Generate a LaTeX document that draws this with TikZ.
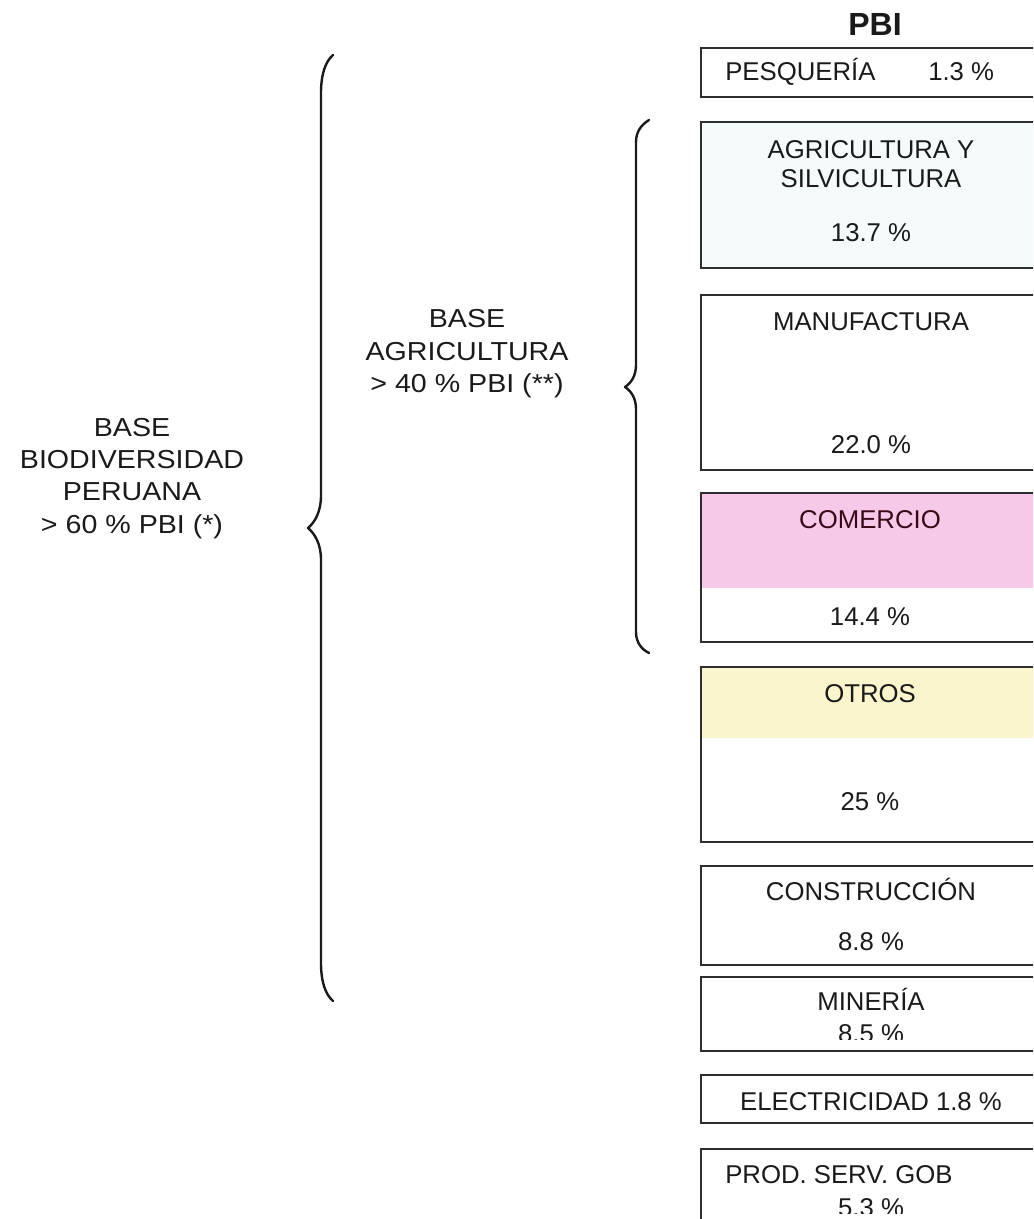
\documentclass[tikz,border=0pt]{standalone}
\usepackage{fontspec}
\setmainfont{Liberation Sans}
\newfontfamily\widesans{Liberation Sans}[FakeStretch=1.1]
\definecolor{ink}{HTML}{1A1A1A}
\definecolor{frame}{HTML}{2E2E2E}
\definecolor{agrifill}{HTML}{F5FBFB}
\definecolor{pinkfill}{HTML}{F5C9E7}
\definecolor{yellowfill}{HTML}{FBF5CE}
\definecolor{maroon}{HTML}{3A0A1A}
\begin{document}
\begin{tikzpicture}[x=0.75pt,y=-0.75pt,
  panel/.style={draw=frame, line width=1.5pt},
  lbl/.style={anchor=base, inner sep=0pt, text=ink, font=\fontsize{19.3}{23}\selectfont},
  lblw/.style={lbl, anchor=base west},
  side/.style={anchor=base, inner sep=0pt, text=ink, font=\widesans\fontsize{19.5}{24}\selectfont},
  brace/.style={draw=ink, line width=1.8pt, line cap=round, line join=round}]
\useasboundingbox (0,0) rectangle (1033,1219);
\clip (0,0) rectangle (1033,1219);

% title
\node[anchor=base, inner sep=0pt, text=ink, font=\bfseries\fontsize{24}{28}\selectfont] (title) at (875,36) {PBI};

% sector panels (right edges run past the page)
\path[panel] (701,48) rectangle (1040,97);
\path[panel, fill=agrifill] (701,122) rectangle (1040,268);
\path[panel] (701,295) rectangle (1040,470);
\fill[pinkfill] (701,493) rectangle (1040,588);
\path[panel] (701,493) rectangle (1040,642);
\fill[yellowfill] (701,667) rectangle (1040,738);
\path[panel] (701,667) rectangle (1040,842);
\path[panel] (701,866) rectangle (1040,965);
\path[panel] (701,977) rectangle (1040,1051);
\path[panel] (701,1075) rectangle (1040,1123);
\path[panel] (701,1149) rectangle (1040,1240);

% panel labels
\node[lblw] (pesq) at (725,81) {PESQUERÍA};
\node[lblw] (pesqv) at (928,81) {1.3 \%};
\node[lbl] (agri1) at (871,159) {AGRICULTURA Y};
\node[lbl] (agri2) at (871,188) {SILVICULTURA};
\node[lbl] (agriv) at (871,242) {13.7 \%};
\node[lbl] (manu) at (871,330) {MANUFACTURA};
\node[lbl] (manuv) at (871,453) {22.0 \%};
\node[lbl, text=maroon] (come) at (870,528) {COMERCIO};
\node[lbl] (comev) at (870,625) {14.4 \%};
\node[lbl] (otros) at (870,702) {OTROS};
\node[lbl] (otrosv) at (870,810) {25 \%};
\node[lbl] (cons) at (871,900) {CONSTRUCCIÓN};
\node[lbl] (consv) at (871,950) {8.8 \%};
\node[lbl] (mine) at (871,1010) {MINERÍA};
\begin{scope}
  \clip (701,980) rectangle (1040,1039);
  \node[lbl] (minev) at (871,1042) {8.5 \%};
\end{scope}
\node[lbl] (elec) at (871,1110) {ELECTRICIDAD 1.8 \%};
\node[lblw] (prod) at (725,1183) {PROD. SERV. GOB};
\begin{scope}
  \clip (701,1152) rectangle (1040,1213);
  \node[lbl] (prodv) at (871,1216) {5.3 \%};
\end{scope}

% inner brace: agriculture base
\path[brace] (649,120) .. controls (641,125) and (636,132) .. (636,142)
  -- (636,365) .. controls (636,376) and (631,383) .. (625,387)
  .. controls (631,391) and (636,398) .. (636,409)
  -- (636,632) .. controls (636,642) and (641,649) .. (649,653);
\node[side] (agb1) at (467,327) {BASE};
\node[side] (agb2) at (467,360) {AGRICULTURA};
\node[side] (agb3) at (467,392) {> 40 \% PBI (**)};

% outer brace: biodiversity base
\path[brace] (333,55) .. controls (325,62) and (321,75) .. (321,93)
  -- (321,495) .. controls (321,512) and (315,522) .. (308,528)
  .. controls (315,534) and (321,544) .. (321,560)
  -- (321,963) .. controls (321,981) and (325,994) .. (333,1001);
\node[side] (bio1) at (132,436) {BASE};
\node[side] (bio2) at (132,468) {BIODIVERSIDAD};
\node[side] (bio3) at (132,500) {PERUANA};
\node[side] (bio4) at (132,533) {> 60 \% PBI (*)};
\end{tikzpicture}
\end{document}
